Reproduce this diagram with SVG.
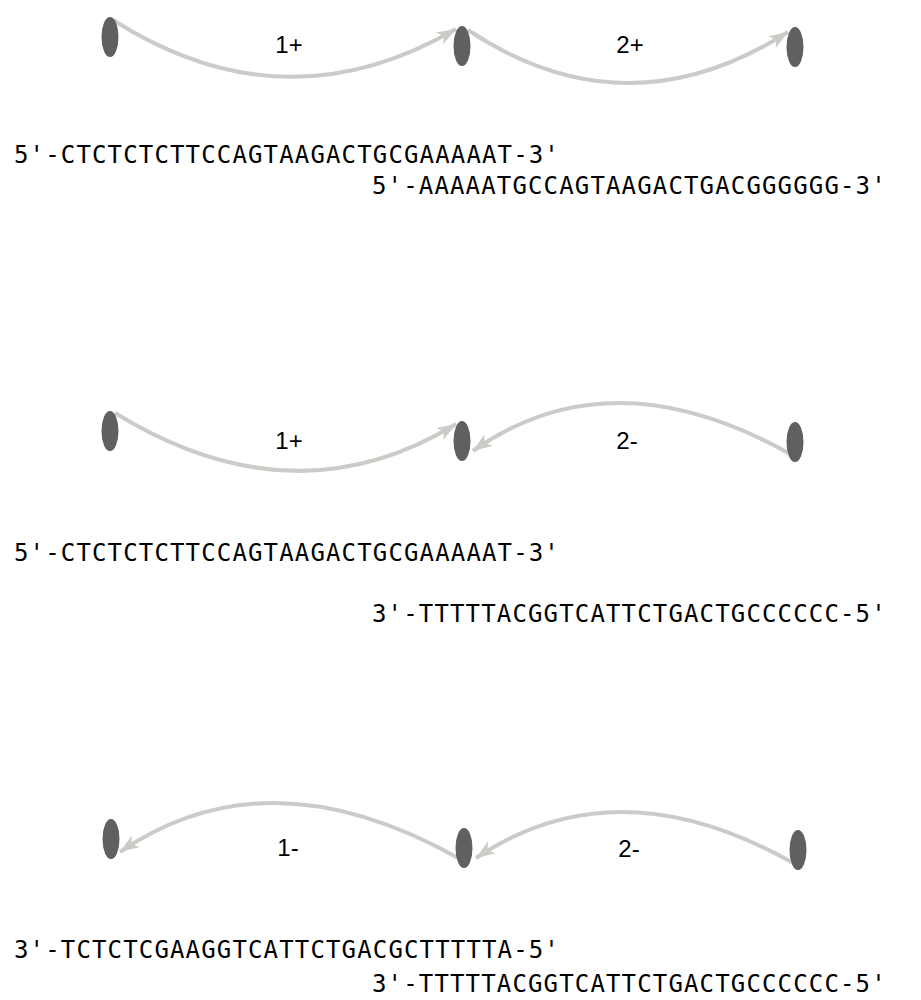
<svg xmlns="http://www.w3.org/2000/svg" width="921" height="1000" viewBox="0 0 921 1000">
  <style>
    .node { fill: #5f6062; }
    .edge { fill: none; stroke: #cbcbc7; stroke-width: 4; marker-end: url(#arrow); }
    .label { font-family: "Liberation Sans", Arial, sans-serif; font-size: 24px; fill: #000; text-anchor: middle; }
    .seq { font-family: "DejaVu Sans Mono", "Liberation Mono", monospace; font-size: 24px; letter-spacing: 1.15px; fill: #000; }
  </style>
  <defs>
    <marker id="arrow" markerUnits="userSpaceOnUse" markerWidth="22" markerHeight="16" refX="19" refY="7" orient="auto">
      <path d="M0,0 L19,7 L0,14 L5,7 z" fill="#cbcbc7"/>
    </marker>
  </defs>
  <rect width="921" height="1000" fill="#fff"/>

  <!-- connectors -->
  <g id="connectors">
    <path class="edge" d="M113,20 Q284,129 456,29"/>
    <path class="edge" d="M468,30 Q626,135 788,32"/>
    <path class="edge" d="M115,413 Q294,523 456,424"/>
    <path class="edge" d="M792,455 Q612,353 473,451"/>
    <path class="edge" d="M462,860 Q269,750 120,852"/>
    <path class="edge" d="M795,864 Q618,763 476,858"/>
  </g>

  <!-- row 1 -->
  <g id="r1-n1"><ellipse class="node" cx="110" cy="37" rx="8.5" ry="20"/></g>
  <g id="r1-n2"><ellipse class="node" cx="462" cy="46" rx="8.5" ry="20"/></g>
  <g id="r1-n3"><ellipse class="node" cx="795" cy="47" rx="8.5" ry="20"/></g>
  <g id="r1-labels">
    <text class="label" x="289" y="53">1+</text>
    <text class="label" x="630" y="53">2+</text>
  </g>
  <g id="r1-seq">
    <text class="seq" x="14" y="163">5'-CTCTCTCTTCCAGTAAGACTGCGAAAAAT-3'</text>
    <text class="seq" x="372" y="194">5'-AAAAATGCCAGTAAGACTGACGGGGGG-3'</text>
  </g>

  <!-- row 2 -->
  <g id="r2-n1"><ellipse class="node" cx="110" cy="431" rx="8.5" ry="20"/></g>
  <g id="r2-n2"><ellipse class="node" cx="462" cy="441" rx="8.5" ry="20"/></g>
  <g id="r2-n3"><ellipse class="node" cx="795" cy="442" rx="8.5" ry="20"/></g>
  <g id="r2-labels">
    <text class="label" x="289" y="449">1+</text>
    <text class="label" x="627" y="449">2-</text>
  </g>
  <g id="r2-seq">
    <text class="seq" x="14" y="561">5'-CTCTCTCTTCCAGTAAGACTGCGAAAAAT-3'</text>
    <text class="seq" x="372" y="622">3'-TTTTTACGGTCATTCTGACTGCCCCCC-5'</text>
  </g>

  <!-- row 3 -->
  <g id="r3-n1"><ellipse class="node" cx="111" cy="839" rx="8.5" ry="20"/></g>
  <g id="r3-n2"><ellipse class="node" cx="464" cy="848" rx="8.5" ry="20"/></g>
  <g id="r3-n3"><ellipse class="node" cx="798" cy="850" rx="8.5" ry="20"/></g>
  <g id="r3-labels">
    <text class="label" x="288" y="856">1-</text>
    <text class="label" x="629" y="857">2-</text>
  </g>
  <g id="r3-seq">
    <text class="seq" x="14" y="958">3'-TCTCTCGAAGGTCATTCTGACGCTTTTTA-5'</text>
    <text class="seq" x="372" y="992">3'-TTTTTACGGTCATTCTGACTGCCCCCC-5'</text>
  </g>
</svg>
